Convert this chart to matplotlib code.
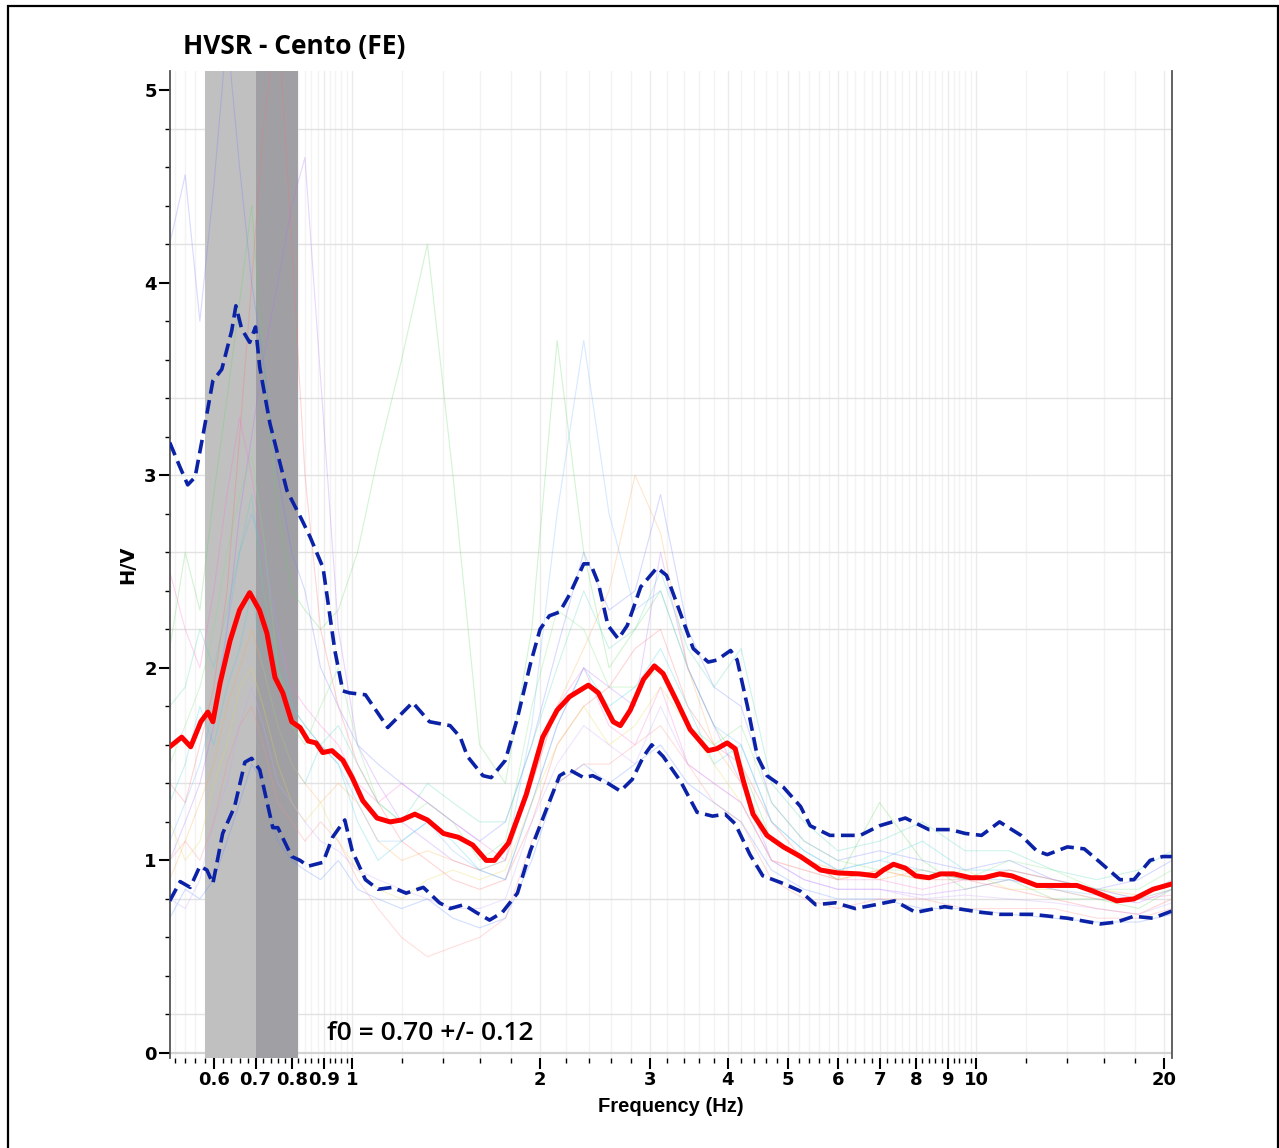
import numpy as np
import matplotlib
matplotlib.use("Agg")
import matplotlib.pyplot as plt
from matplotlib.ticker import FixedLocator, FixedFormatter, NullFormatter
from matplotlib.patches import Rectangle

# ---------------------------------------------------------------- data
title = "HVSR - Cento (FE)"
f0, f0_sd = 0.70, 0.12

# average H/V curve
f_mean = [0.51, 0.533, 0.551, 0.572, 0.587, 0.598, 0.614, 0.637, 0.66, 0.685,
          0.71, 0.73, 0.752, 0.774, 0.80, 0.825, 0.85, 0.875, 0.897, 0.928,
          0.966, 1.0, 1.04, 1.096, 1.15, 1.2, 1.26, 1.32, 1.40, 1.48,
          1.56, 1.64, 1.69, 1.78, 1.90, 2.02, 2.13, 2.23, 2.39, 2.48,
          2.62, 2.69, 2.79, 2.93, 3.05, 3.15, 3.32, 3.48, 3.72, 3.84,
          3.99, 4.11, 4.23, 4.39, 4.62, 4.91, 5.23, 5.63, 6.0, 6.5,
          6.9, 7.1, 7.37, 7.7, 8.0, 8.4, 8.77, 9.2, 9.8, 10.3,
          10.9, 11.4, 12.5, 13.3, 14.5, 15.4, 16.8, 17.9, 19.2, 20.7]
hv_mean = [1.59, 1.64, 1.59, 1.72, 1.77, 1.72, 1.92, 2.14, 2.30, 2.39,
           2.30, 2.18, 1.95, 1.87, 1.72, 1.69, 1.62, 1.61, 1.56, 1.57,
           1.52, 1.43, 1.31, 1.22, 1.20, 1.21, 1.24, 1.21, 1.14, 1.12,
           1.08, 1.00, 1.00, 1.09, 1.34, 1.64, 1.78, 1.85, 1.91, 1.87,
           1.72, 1.70, 1.78, 1.94, 2.01, 1.97, 1.82, 1.68, 1.57, 1.58,
           1.61, 1.58, 1.42, 1.24, 1.13, 1.07, 1.02, 0.95, 0.935, 0.93,
           0.92, 0.95, 0.98, 0.96, 0.92, 0.91, 0.93, 0.93, 0.91, 0.91,
           0.93, 0.92, 0.87, 0.87, 0.87, 0.84, 0.79, 0.80, 0.85, 0.88]

# mean + standard deviation
f_upper = [0.51, 0.53, 0.545, 0.56, 0.576, 0.598, 0.618, 0.641, 0.651, 0.665,
           0.685, 0.70, 0.711, 0.738, 0.786, 0.83, 0.856, 0.898, 0.938, 0.966,
           0.99, 1.05, 1.14, 1.25, 1.33, 1.435, 1.49, 1.53, 1.62, 1.67,
           1.76, 1.84, 1.93, 2.00, 2.07, 2.15, 2.23, 2.35, 2.41, 2.48,
           2.57, 2.67, 2.76, 2.90, 3.08, 3.19, 3.36, 3.52, 3.72, 3.84,
           4.04, 4.14, 4.30, 4.46, 4.62, 4.91, 5.23, 5.42, 5.83, 6.52,
           7.0, 7.7, 8.4, 9.1, 9.6, 10.2, 10.9, 11.8, 12.5, 13.0,
           14.0, 14.9, 15.8, 17.0, 17.9, 19.0, 19.9, 20.7]
hv_upper = [3.17, 3.04, 2.95, 2.99, 3.20, 3.49, 3.55, 3.75, 3.88, 3.76,
            3.69, 3.77, 3.56, 3.27, 2.92, 2.77, 2.68, 2.52, 2.09, 1.88,
            1.87, 1.86, 1.69, 1.82, 1.72, 1.70, 1.64, 1.54, 1.44, 1.43,
            1.52, 1.74, 2.02, 2.20, 2.27, 2.29, 2.38, 2.54, 2.54, 2.44,
            2.22, 2.15, 2.22, 2.42, 2.52, 2.48, 2.28, 2.10, 2.03, 2.04,
            2.09, 2.04, 1.80, 1.54, 1.44, 1.38, 1.28, 1.18, 1.13, 1.13,
            1.18, 1.22, 1.16, 1.16, 1.14, 1.13, 1.20, 1.13, 1.05, 1.03,
            1.07, 1.06, 0.99, 0.90, 0.90, 1.00, 1.02, 1.02]

# mean - standard deviation
f_lower = [0.51, 0.53, 0.55, 0.57, 0.585, 0.598, 0.62, 0.648, 0.673, 0.69,
           0.711, 0.746, 0.76, 0.80, 0.825, 0.85, 0.898, 0.93, 0.973, 1.0,
           1.05, 1.10, 1.16, 1.22, 1.30, 1.38, 1.435, 1.51, 1.58, 1.66,
           1.74, 1.84, 1.93, 2.05, 2.15, 2.23, 2.35, 2.43, 2.57, 2.69,
           2.81, 2.93, 3.02, 3.15, 3.36, 3.57, 3.78, 3.96, 4.11, 4.34,
           4.55, 4.91, 5.23, 5.53, 5.95, 6.4, 6.9, 7.4, 8.0, 8.9,
           10.2, 10.9, 12.3, 14.0, 15.8, 16.8, 17.9, 19.2, 20.7]
hv_lower = [0.79, 0.89, 0.86, 0.97, 0.95, 0.88, 1.14, 1.28, 1.51, 1.53,
            1.47, 1.17, 1.17, 1.02, 1.00, 0.97, 0.99, 1.12, 1.21, 1.05,
            0.90, 0.85, 0.86, 0.83, 0.86, 0.78, 0.75, 0.77, 0.73, 0.69,
            0.73, 0.83, 1.05, 1.27, 1.44, 1.47, 1.43, 1.44, 1.40, 1.36,
            1.42, 1.54, 1.60, 1.54, 1.41, 1.25, 1.23, 1.24, 1.19, 1.03,
            0.92, 0.88, 0.84, 0.77, 0.78, 0.75, 0.77, 0.79, 0.73, 0.76,
            0.73, 0.72, 0.72, 0.70, 0.67, 0.68, 0.71, 0.70, 0.74]

# single-window H/V curves
f_win = [0.51, 0.54, 0.57, 0.60, 0.63, 0.66, 0.69, 0.72, 0.76, 0.80,
         0.84, 0.89, 0.95, 1.02, 1.10, 1.20, 1.32, 1.45, 1.60, 1.76,
         1.94, 2.13, 2.35, 2.58, 2.84, 3.12, 3.45, 3.80, 4.2, 4.7,
         5.3, 6.0, 7.0, 8.2, 9.6, 11.3, 13.3, 15.6, 18.2, 20.6]
win_01 = [4.2, 4.56, 3.8, 4.5, 5.3, 4.6, 4.0, 3.6, 3.0, 2.6, 2.4, 2.0, 1.8, 1.6, 1.5, 1.4, 1.3, 1.2, 1.1, 1.2,
          1.6, 2.1, 2.6, 2.3, 2.4, 2.9, 2.2, 1.9, 1.8, 1.3, 1.1, 1.0, 1.05, 1.0, 0.95, 1.0, 0.9, 0.85, 0.9, 1.0]
win_02 = [2.1, 2.6, 2.3, 2.9, 3.4, 3.9, 4.4, 3.6, 2.8, 2.4, 2.3, 2.2, 2.3, 2.6, 3.1, 3.6, 4.2, 3.0, 1.6, 1.4,
          2.2, 3.7, 2.6, 2.0, 2.2, 2.4, 2.0, 1.7, 1.5, 1.1, 1.0, 0.9, 1.3, 1.0, 0.85, 0.9, 0.8, 0.8, 0.75, 0.85]
win_03 = [1.4, 1.3, 1.6, 1.9, 2.4, 3.2, 4.0, 4.8, 5.4, 4.2, 3.0, 2.2, 1.8, 1.5, 1.3, 1.1, 1.0, 0.9, 0.85, 0.9,
          1.2, 1.6, 1.8, 1.9, 2.1, 2.2, 1.8, 1.6, 1.5, 1.2, 1.0, 0.9, 0.95, 0.9, 0.9, 0.85, 0.8, 0.75, 0.72, 0.8]
win_04 = [1.0, 1.2, 1.4, 1.7, 2.2, 2.8, 3.2, 3.6, 4.0, 4.4, 4.65, 3.5, 2.2, 1.6, 1.4, 1.2, 1.1, 1.0, 0.95, 0.9,
          1.3, 1.7, 2.0, 1.9, 1.8, 2.6, 2.0, 1.7, 1.4, 1.0, 0.9, 0.85, 0.85, 0.82, 0.85, 0.9, 0.85, 0.8, 0.78, 0.85]
win_05 = [1.3, 1.5, 1.8, 1.6, 1.9, 2.1, 2.4, 2.0, 1.7, 1.5, 1.4, 1.6, 1.5, 1.2, 1.0, 1.1, 1.2, 1.1, 0.95, 0.9,
          1.3, 1.7, 2.0, 1.8, 1.9, 2.1, 1.8, 1.5, 1.6, 1.2, 1.05, 0.95, 1.0, 1.1, 0.95, 0.95, 0.9, 0.85, 0.8, 0.9]
win_06 = [0.9, 1.1, 1.3, 1.5, 1.8, 2.0, 2.2, 2.0, 1.7, 1.5, 1.4, 1.3, 1.4, 1.3, 1.1, 1.0, 1.05, 1.0, 0.95, 1.0,
          1.4, 1.8, 2.1, 2.4, 3.0, 2.7, 2.0, 1.6, 1.4, 1.1, 1.0, 0.95, 0.9, 0.95, 0.9, 0.95, 0.9, 0.85, 0.82, 0.88]
win_07 = [1.2, 1.0, 1.1, 1.4, 1.6, 1.9, 2.0, 1.8, 1.5, 1.3, 1.2, 1.3, 1.1, 0.95, 0.85, 0.8, 0.9, 0.95, 0.9, 0.95,
          1.3, 1.6, 1.8, 1.6, 1.7, 1.9, 1.7, 1.5, 1.3, 1.0, 0.95, 0.9, 0.95, 0.9, 0.95, 0.85, 0.85, 0.8, 0.8, 0.85]
win_08 = [0.7, 0.85, 0.8, 0.9, 1.1, 1.3, 1.5, 1.4, 1.1, 1.0, 0.95, 0.9, 1.0, 0.85, 0.8, 0.75, 0.8, 0.7, 0.65, 0.7,
          1.0, 1.4, 1.5, 1.4, 1.5, 1.6, 1.4, 1.3, 1.2, 0.95, 0.85, 0.8, 0.8, 0.75, 0.75, 0.72, 0.7, 0.68, 0.68, 0.72]
win_09 = [2.5, 2.2, 2.0, 2.4, 2.9, 3.3, 3.0, 2.6, 2.2, 1.9, 1.8, 1.7, 1.6, 1.4, 1.3, 1.4, 1.3, 1.2, 1.1, 1.0,
          1.4, 1.8, 2.0, 1.7, 1.6, 1.9, 1.5, 1.4, 1.3, 1.0, 0.95, 0.9, 0.9, 0.85, 0.9, 0.95, 0.9, 0.85, 0.8, 0.82]
win_10 = [1.5, 1.7, 1.9, 2.2, 2.6, 2.9, 3.1, 2.7, 2.0, 1.7, 1.6, 1.8, 2.0, 1.6, 1.3, 1.2, 1.3, 1.2, 1.0, 1.1,
          1.8, 2.3, 2.2, 1.9, 1.9, 2.0, 1.7, 1.6, 1.7, 1.3, 1.1, 1.0, 0.95, 0.95, 0.9, 1.0, 0.95, 0.85, 0.85, 0.95]
win_11 = [1.1, 1.3, 1.5, 1.8, 2.2, 2.6, 2.8, 2.6, 2.2, 1.8, 1.7, 1.6, 1.5, 1.3, 1.1, 1.1, 1.2, 1.05, 0.95, 1.0,
          1.7, 2.8, 3.7, 2.8, 2.3, 2.4, 2.0, 1.7, 1.6, 1.2, 1.05, 0.95, 1.0, 0.95, 0.9, 0.9, 0.85, 0.82, 0.8, 0.85]
win_12 = [1.0, 1.1, 1.0, 1.2, 1.5, 1.7, 1.8, 1.6, 1.3, 1.2, 1.1, 1.2, 1.1, 0.9, 0.75, 0.6, 0.5, 0.55, 0.6, 0.7,
          1.1, 1.4, 1.5, 1.5, 1.6, 1.7, 1.5, 1.3, 1.2, 0.9, 0.8, 0.75, 0.8, 0.8, 0.75, 0.75, 0.75, 0.7, 0.7, 0.75]
win_13 = [1.8, 1.9, 2.2, 2.0, 2.3, 2.6, 2.9, 2.4, 2.0, 1.8, 1.7, 1.6, 1.7, 1.5, 1.3, 1.2, 1.4, 1.3, 1.2, 1.2,
          1.6, 2.0, 2.4, 2.1, 2.2, 2.5, 2.1, 1.9, 2.1, 1.4, 1.2, 1.05, 1.1, 1.2, 1.05, 1.05, 0.95, 0.9, 0.95, 1.05]
win_14 = [0.8, 0.75, 0.9, 1.2, 1.4, 1.7, 1.9, 1.7, 1.4, 1.3, 1.2, 1.1, 1.05, 0.95, 0.9, 0.85, 0.8, 0.75, 0.75, 0.8,
          1.2, 1.5, 1.7, 1.6, 1.5, 1.8, 1.5, 1.4, 1.3, 1.0, 0.9, 0.85, 0.85, 0.8, 0.82, 0.8, 0.78, 0.75, 0.72, 0.78]
windows = [win_01, win_02, win_03, win_04, win_05, win_06, win_07,
           win_08, win_09, win_10, win_11, win_12, win_13, win_14]
win_colors = ["#6f7cff", "#5ed65e", "#ff6b6b", "#b36bff", "#3fd0e0", "#ffa94d", "#e6d84a",
              "#5b8cff", "#ff6bd2", "#7be37b", "#6fb4ff", "#ff8a8a", "#4fd6b6", "#c7a0ff"]

x_major = [0.6, 0.7, 0.8, 0.9, 1, 2, 3, 4, 5, 6, 7, 8, 9, 10, 20]
x_labels = ["0.6", "0.7", "0.8", "0.9", "1", "2", "3", "4", "5", "6", "7", "8", "9", "10", "20"]
y_major = [0, 1, 2, 3, 4, 5]

# ---------------------------------------------------------------- figure
W, H = 1279, 1148
fig = plt.figure(figsize=(W / 100, H / 100), dpi=100)
L, R, T, B = 170, 1172, 71, 1058
ax = fig.add_axes([L / W, (H - B) / H, (R - L) / W, (B - T) / H])

ax.set_xscale("log")
ax.set_xlim(0.5105, 20.6)
ax.set_ylim(-0.026, 5.099)

# minor tick positions: 0.02 steps below 1 Hz, 0.2 steps to 10 Hz, 2 Hz steps above
x_minor = [round(v, 2) for v in np.arange(0.52, 0.99, 0.02)]
x_minor += [round(v, 1) for v in np.arange(1.2, 9.9, 0.2)]
x_minor += [12, 14, 16, 18]
x_minor = [v for v in x_minor if not any(abs(v - m) < 1e-6 for m in x_major)]

ax.xaxis.set_major_locator(FixedLocator(x_major))
ax.xaxis.set_major_formatter(FixedFormatter(x_labels))
ax.xaxis.set_minor_locator(FixedLocator(x_minor))
ax.xaxis.set_minor_formatter(NullFormatter())
ax.yaxis.set_major_locator(FixedLocator(y_major))
ax.yaxis.set_minor_locator(FixedLocator([round(v, 1) for v in np.arange(0.2, 5.05, 0.2)]))

tick_font = dict(family="DejaVu Sans", weight="bold", size=13)
for lab in ax.get_xticklabels() + ax.get_yticklabels():
    lab.set_fontproperties(matplotlib.font_manager.FontProperties(**tick_font))
ax.tick_params(axis="both", which="major", direction="out", length=8, width=1.5,
               color="black", pad=1.5)
ax.tick_params(axis="both", which="minor", direction="out", length=3.6, width=1.0,
               color="black")

for side in ("top", "bottom"):
    ax.spines[side].set_visible(False)
for side in ("left", "right"):
    ax.spines[side].set_color("#555555")
    ax.spines[side].set_linewidth(1.3)

# light grid
for xv in x_minor:
    ax.axvline(xv, color="#f3f3f3", lw=1.0, zorder=0.5)
for xv in x_major:
    ax.axvline(xv, color="#ebebeb", lw=1.0, zorder=0.5)
for yv in [0.2, 0.8, 1.4, 2.2, 2.6, 3.0, 3.4, 4.2, 4.8]:
    ax.axhline(yv, color="#e2e2e2", lw=1.0, zorder=0.6)
ax.axhline(0, color="#d3d3d3", lw=1.6, zorder=0.6)

# f0 +/- standard deviation band
ax.axvspan(f0 - f0_sd, f0, color="#c0c0c0", lw=0, zorder=1)
ax.axvspan(f0, f0 + f0_sd, color="#a0a0a4", lw=0, zorder=1)

for vals, col in zip(windows, win_colors):
    ax.plot(f_win, vals, color=col, lw=0.8, alpha=0.28, zorder=2)

ax.plot(f_upper, hv_upper, color="#0b22a6", lw=2.6, ls=(0, (3.8, 1.8)),
        dash_capstyle="butt", zorder=3)
ax.plot(f_lower, hv_lower, color="#0b22a6", lw=2.6, ls=(0, (3.8, 1.8)),
        dash_capstyle="butt", zorder=3)
ax.plot(f_mean, hv_mean, color="#ff0000", lw=3.6, solid_joinstyle="round",
        solid_capstyle="round", zorder=4)

# labels and annotations
fig.text(671 / W, 1 - 1107 / H, "Frequency (Hz)", ha="center", va="center",
         family="Liberation Sans", weight="bold", size=14.5)
fig.text(128 / W, 1 - 565 / H, "H/V", ha="center", va="center", rotation=90,
         family="DejaVu Sans", weight="bold", size=14)
fig.text(183 / W, 1 - 54 / H, title, ha="left", va="baseline",
         family="Open Sans", weight="bold", size=19)
fig.text(327 / W, 1 - 1040 / H, f"f0 = {f0:.2f} +/- {f0_sd:.2f}", ha="left",
         va="baseline", family="Open Sans", weight="semibold", size=19)

# outer frame
fig.patches.append(Rectangle((7.5 / W, -0.01), (1277.5 - 7.5) / W, 1 - 6 / H + 0.01,
                             transform=fig.transFigure, fill=False, lw=1.6,
                             edgecolor="black", clip_on=False))

fig.savefig("out.png", dpi=100)
